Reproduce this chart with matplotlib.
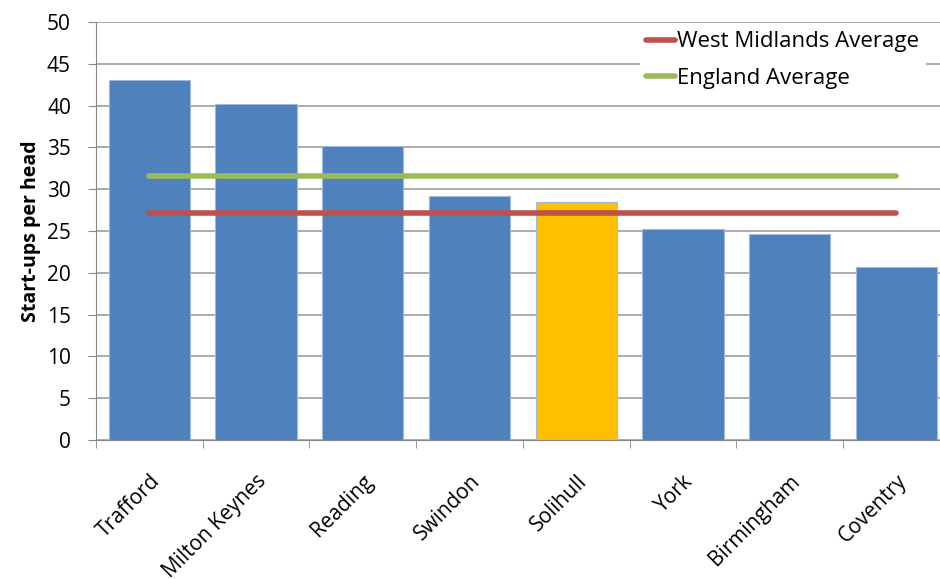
import numpy as np
import matplotlib
matplotlib.use("Agg")
import matplotlib.pyplot as plt

plt.rcParams['font.family'] = ['Open Sans', 'DejaVu Sans']

places = ['Trafford', 'Milton Keynes', 'Reading', 'Swindon', 'Solihull',
          'York', 'Birmingham', 'Coventry']
startups = [43.1, 40.2, 35.2, 29.2, 28.5, 25.3, 24.7, 20.7]
west_midlands_avg = 27.1
england_avg = 31.6
highlight = 'Solihull'

x = np.arange(len(places))
colors = ['#FFC000' if p == highlight else '#4F81BD' for p in places]

fig = plt.figure(figsize=(9.40, 5.79), dpi=100)
ax = fig.add_axes([0.102, 0.240, 0.9085, 0.722])

ax.bar(x, startups, width=0.76, color=colors, edgecolor='#9DB9DD', linewidth=0.8, zorder=2)
ax.plot(x, [west_midlands_avg] * len(x), color='#C0504D', lw=4,
        solid_capstyle='round', label='West Midlands Average', zorder=3)
ax.plot(x, [england_avg] * len(x), color='#9BBB59', lw=4,
        solid_capstyle='round', label='England Average', zorder=3)

ax.set_xlim(-0.5, len(places) - 0.5)
ax.set_ylim(0, 50)
ax.set_yticks(np.arange(0, 51, 5))
ax.yaxis.grid(True, color='#A6A6A6', lw=1.3, zorder=0)
ax.set_axisbelow(True)

ax.set_xticks(x)
ax.set_xticklabels(places, rotation=45, ha='right', rotation_mode='anchor', fontsize=15)
ax.set_xticks(np.arange(-0.5, len(places)), minor=True)
ax.tick_params(axis='x', which='major', length=0, pad=22)
ax.tick_params(axis='x', which='minor', length=6, color='#868686')
ax.tick_params(axis='y', labelsize=15, length=6, color='#868686', pad=12)

for side in ['top', 'right']:
    ax.spines[side].set_visible(False)
for side in ['left', 'bottom']:
    ax.spines[side].set_color('#868686')

ax.set_ylabel('Start-ups per head', fontsize=14, fontweight='bold', labelpad=4)

leg = ax.legend(loc='upper right', bbox_to_anchor=(0.985, 1.02), fontsize=16,
                frameon=True, fancybox=False, handlelength=1.3, handletextpad=0.1,
                borderpad=0.3, labelspacing=0.7)
leg.get_frame().set_edgecolor('none')
leg.get_frame().set_facecolor('white')
leg.get_frame().set_alpha(1)

fig.savefig('out.png', dpi=100)
